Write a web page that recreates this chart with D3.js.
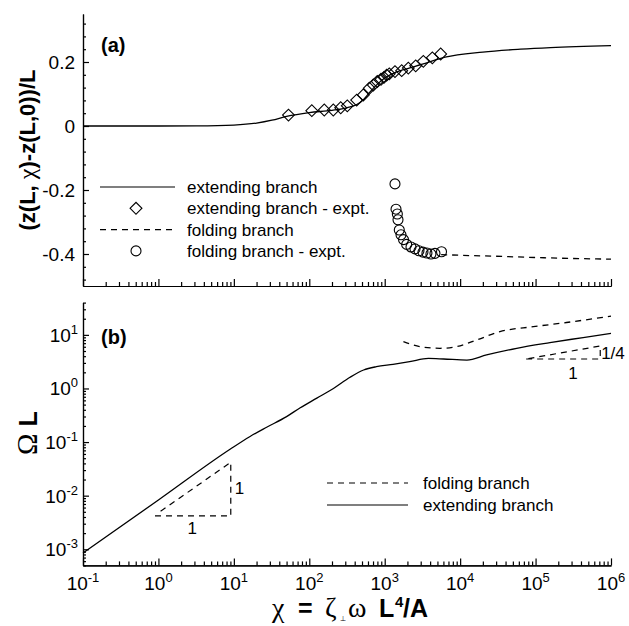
<!DOCTYPE html>
<html>
<head>
<meta charset="utf-8">
<script src="https://cdn.jsdelivr.net/npm/d3@7"></script>
<style>
body { margin: 0; background: #fff; }
svg { font-family: "Liberation Sans", Arial, sans-serif; }
</style>
</head>
<body>
<svg id="chart" width="629" height="626"></svg>
<script>
// panel (a): extending branch (theory)
var extTopChi = [0.1, 1, 3.2, 10, 20, 32, 50, 100, 200, 316, 427, 525, 630, 794, 1000, 1260, 1780, 3160, 6310, 20000, 63100, 158000, 1e6];
var extTopZ   = [0, 0, 0.0005, 0.003, 0.009, 0.018, 0.03, 0.042, 0.049, 0.057, 0.067, 0.083, 0.105, 0.13, 0.15, 0.163, 0.176, 0.193, 0.215, 0.231, 0.24, 0.245, 0.251];
// panel (a): extending branch experiment (diamonds)
var extExpChi = [53, 108, 158, 208, 261, 319, 425, 520, 625, 706, 797, 893, 978, 1062, 1150, 1368, 1679, 2055, 2575, 3250, 4280, 5520];
var extExpZ   = [0.034, 0.048, 0.05, 0.05, 0.057, 0.063, 0.081, 0.097, 0.118, 0.128, 0.139, 0.146, 0.152, 0.159, 0.163, 0.17, 0.173, 0.181, 0.188, 0.202, 0.213, 0.225];
// panel (a): folding branch (theory, dashed)
var foldTopChi = [5600, 10000, 30000, 100000, 300000, 1e6];
var foldTopZ   = [-0.402, -0.404, -0.407, -0.411, -0.414, -0.416];
// panel (a): folding branch experiment (circles)
var foldExpChi = [1368, 1412, 1470, 1500, 1560, 1644, 1775, 1955, 2230, 2520, 2845, 3215, 3630, 4100, 4635, 5660];
var foldExpZ   = [-0.181, -0.26, -0.275, -0.293, -0.325, -0.34, -0.355, -0.37, -0.378, -0.384, -0.39, -0.394, -0.397, -0.4, -0.398, -0.393];

// panel (b): Omega L
var extBotChi = [0.1, 1, 8.9, 16.2, 27.2, 50, 75.9, 126, 209, 347, 525, 776, 1290, 2140, 3800, 6030, 12300, 22400, 56200, 155000, 427000, 1e6];
var extBotW   = [8.5e-4, 8.3e-3, 0.0734, 0.126, 0.189, 0.298, 0.437, 0.661, 1.0, 1.62, 2.21, 2.55, 2.82, 3.16, 3.63, 3.55, 3.39, 4.22, 5.62, 7.16, 8.91, 10.7];
var foldBotChi = [1770, 2940, 5410, 9000, 16600, 33700, 93300, 257000, 1e6];
var foldBotW   = [7.46, 6.03, 5.62, 6.03, 8.04, 11.5, 14.2, 17.0, 22.4];

// slope triangles (chi, OmegaL)
var tri1 = [[0.9, 0.0042], [9.1, 0.0042], [9.1, 0.042], [0.98, 0.0047]];
var tri2 = [[75000, 3.55], [720000, 3.55], [720000, 6.2], [75000, 3.55]];

// tick labels
var xDecades = [-1, 0, 1, 2, 3, 4, 5, 6];
var yBotDecades = [-3, -2, -1, 0, 1];
var yTopMajor = [-0.4, -0.2, 0, 0.2];
var yTopLabels = ["-0.4", "-0.2", "0", "0.2"];
var yTopMinor = [-0.48, -0.44, -0.36, -0.32, -0.28, -0.24, -0.16, -0.12, -0.08, -0.04, 0.04, 0.08, 0.12, 0.16, 0.24, 0.28, 0.32];

var svg = d3.select("#chart");

var x = d3.scaleLog().domain([0.1, 1e6]).range([83, 611]);
var yTop = d3.scaleLinear().domain([-0.5, 0.35]).range([286, 14]);
var yBot = d3.scaleLog().domain([5e-4, 40]).range([565.4, 302.6]);

var majX = xDecades.map(function(p){ return Math.pow(10, p); });
var minX = [];
majX.slice(0, -1).forEach(function(d){
  for (var k = 2; k <= 9; k++) minX.push(d * k);
});

function styleAxis(g){
  g.selectAll("path, line").attr("stroke", "#000").attr("stroke-width", 1.2);
}

// x axes (ticks pointing inwards)
function drawX(yPos){
  svg.append("g").attr("transform", "translate(0," + yPos + ")")
    .call(d3.axisBottom(x).tickValues(minX).tickSize(-4).tickSizeOuter(0).tickFormat(""))
    .call(styleAxis);
  svg.append("g").attr("transform", "translate(0," + yPos + ")")
    .call(d3.axisBottom(x).tickValues(majX).tickSize(-7).tickSizeOuter(0).tickFormat(""))
    .call(styleAxis);
}
drawX(yTop(-0.5));
drawX(yBot(5e-4));

// top y axis
svg.append("g").attr("transform", "translate(83,0)")
  .call(d3.axisLeft(yTop).tickValues(yTopMinor).tickSize(-3).tickSizeOuter(0).tickFormat(""))
  .call(styleAxis);
svg.append("g").attr("transform", "translate(83,0)")
  .call(d3.axisLeft(yTop).tickValues(yTopMajor).tickSize(-6).tickSizeOuter(0).tickPadding(8)
    .tickFormat(function(d, i){ return yTopLabels[i]; }))
  .call(styleAxis)
  .selectAll("text").attr("font-size", 19).attr("fill", "#000")
  .attr("font-family", "Liberation Sans, Arial, sans-serif");

// bottom y axis
var majY = yBotDecades.map(function(p){ return Math.pow(10, p); });
var minY = [];
[-4, -3, -2, -1, 0, 1].forEach(function(p){
  for (var k = 2; k <= 9; k++) {
    var v = k * Math.pow(10, p);
    if (v >= 5e-4 && v <= 40) minY.push(v);
  }
});
svg.append("g").attr("transform", "translate(83,0)")
  .call(d3.axisLeft(yBot).tickValues(minY).tickSize(-3).tickSizeOuter(0).tickFormat(""))
  .call(styleAxis);
svg.append("g").attr("transform", "translate(83,0)")
  .call(d3.axisLeft(yBot).tickValues(majY).tickSize(-6).tickSizeOuter(0).tickFormat(""))
  .call(styleAxis);

// power-of-ten labels
function powLabel(xp, yp, p, anchor){
  var t = svg.append("text").attr("x", xp).attr("y", yp)
    .attr("text-anchor", anchor).attr("font-size", 19).attr("fill", "#000");
  t.append("tspan").text("10");
  t.append("tspan").attr("dy", -8).attr("font-size", 13).text(p);
}
xDecades.forEach(function(p){ powLabel(x(Math.pow(10, p)), 590, p, "middle"); });
yBotDecades.forEach(function(p){ powLabel(78, yBot(Math.pow(10, p)) + 7, p, "end"); });

// curves
var line = d3.line().curve(d3.curveMonotoneX);
function pts(xs, ys, ys_scale){
  return xs.map(function(c, i){ return [x(c), ys_scale(ys[i])]; });
}
svg.append("path").attr("d", line(pts(extTopChi, extTopZ, yTop)))
  .attr("fill", "none").attr("stroke", "#000").attr("stroke-width", 1.3);
svg.append("path").attr("d", line(pts(foldTopChi, foldTopZ, yTop)))
  .attr("fill", "none").attr("stroke", "#000").attr("stroke-width", 1.3).attr("stroke-dasharray", "6,5");
svg.append("path").attr("d", line(pts(extBotChi, extBotW, yBot)))
  .attr("fill", "none").attr("stroke", "#000").attr("stroke-width", 1.3);
svg.append("path").attr("d", line(pts(foldBotChi, foldBotW, yBot)))
  .attr("fill", "none").attr("stroke", "#000").attr("stroke-width", 1.3).attr("stroke-dasharray", "6,5");

// experiment markers
var diamond = d3.symbol().type(d3.symbolSquare).size(70);
svg.append("g").selectAll("path").data(extExpChi).enter().append("path")
  .attr("d", diamond)
  .attr("transform", function(c, i){ return "translate(" + x(c) + "," + yTop(extExpZ[i]) + ") rotate(45)"; })
  .attr("fill", "none").attr("stroke", "#000").attr("stroke-width", 1.1);
svg.append("g").selectAll("circle").data(foldExpChi).enter().append("circle")
  .attr("cx", function(c){ return x(c); })
  .attr("cy", function(c, i){ return yTop(foldExpZ[i]); })
  .attr("r", 5).attr("fill", "none").attr("stroke", "#000").attr("stroke-width", 1.1);

// slope triangles
var lin = d3.line();
svg.append("path").attr("d", lin(tri1.map(function(d){ return [x(d[0]), yBot(d[1])]; })))
  .attr("fill", "none").attr("stroke", "#000").attr("stroke-width", 1.2).attr("stroke-dasharray", "6,5");
svg.append("path").attr("d", lin(tri2.map(function(d){ return [x(d[0]), yBot(d[1])]; })))
  .attr("fill", "none").attr("stroke", "#000").attr("stroke-width", 1.2).attr("stroke-dasharray", "6,5");
function note(c, w, s, anchor){
  svg.append("text").attr("x", x(c)).attr("y", yBot(w)).attr("text-anchor", anchor)
    .attr("font-size", 17).attr("fill", "#000").text(s);
}
note(2.8, 0.0019, "1", "middle");
note(10.3, 0.0108, "1", "start");
note(313000, 1.5, "1", "middle");
note(740000, 3.6, "1/4", "start");

// panel labels
svg.append("text").attr("x", 101).attr("y", 52).attr("font-size", 20).attr("font-weight", "bold").text("(a)");
svg.append("text").attr("x", 101).attr("y", 344).attr("font-size", 20).attr("font-weight", "bold").text("(b)");

// top legend
var legTop = [
  {label: "extending branch", kind: "solid"},
  {label: "extending branch - expt.", kind: "diamond"},
  {label: "folding branch", kind: "dash"},
  {label: "folding branch - expt.", kind: "circle"}
];
legTop.forEach(function(d, i){
  var yy = 187 + i * 21.3;
  if (d.kind === "solid" || d.kind === "dash") {
    svg.append("line").attr("x1", 100).attr("x2", 175).attr("y1", yy).attr("y2", yy)
      .attr("stroke", "#000").attr("stroke-width", 1.2)
      .attr("stroke-dasharray", d.kind === "dash" ? "6,5" : null);
  } else if (d.kind === "diamond") {
    svg.append("path").attr("d", diamond).attr("transform", "translate(136," + yy + ") rotate(45)")
      .attr("fill", "none").attr("stroke", "#000").attr("stroke-width", 1.1);
  } else {
    svg.append("circle").attr("cx", 136).attr("cy", yy).attr("r", 5)
      .attr("fill", "none").attr("stroke", "#000").attr("stroke-width", 1.1);
  }
  svg.append("text").attr("x", 187).attr("y", yy + 6).attr("font-size", 17).text(d.label);
});

// bottom legend
[{label: "folding branch", dash: "6,5"}, {label: "extending branch", dash: null}].forEach(function(d, i){
  var yy = 483 + i * 22;
  svg.append("line").attr("x1", 327).attr("x2", 408).attr("y1", yy).attr("y2", yy)
    .attr("stroke", "#000").attr("stroke-width", 1.2).attr("stroke-dasharray", d.dash);
  svg.append("text").attr("x", 423).attr("y", yy + 6).attr("font-size", 17).text(d.label);
});

// axis titles
svg.append("text").attr("transform", "translate(35,150) rotate(-90)")
  .attr("text-anchor", "middle").attr("font-size", 22).attr("font-weight", "bold")
  .html('(z(L, <tspan font-family="Liberation Serif, serif" font-weight="normal" font-size="24">χ</tspan>)-z(L,0))/L');

svg.append("text").attr("transform", "translate(37,433) rotate(-90)")
  .attr("text-anchor", "middle").attr("font-size", 25).attr("font-weight", "bold")
  .html('<tspan font-family="Liberation Serif, serif" font-weight="normal" font-size="29">Ω</tspan> L');

var serif = 'font-family="Liberation Serif, serif" font-weight="normal" font-size="28"';
svg.append("text").attr("y", 617).attr("font-size", 25).attr("font-weight", "bold").attr("fill", "#000")
  .html('<tspan x="272" ' + serif + '>χ</tspan>'
  + '<tspan x="298">=</tspan>'
  + '<tspan x="325" ' + serif + '>ζ</tspan>'
  + '<tspan x="340" dy="4" font-family="DejaVu Sans, sans-serif" font-weight="normal" font-size="7" fill="#000">⊥</tspan>'
  + '<tspan x="348" dy="-4" ' + serif + '>ω</tspan>'
  + '<tspan x="379">L</tspan>'
  + '<tspan x="395" dy="-10" font-size="15">4</tspan>'
  + '<tspan x="403" dy="10">/A</tspan>');
</script>
</body>
</html>
